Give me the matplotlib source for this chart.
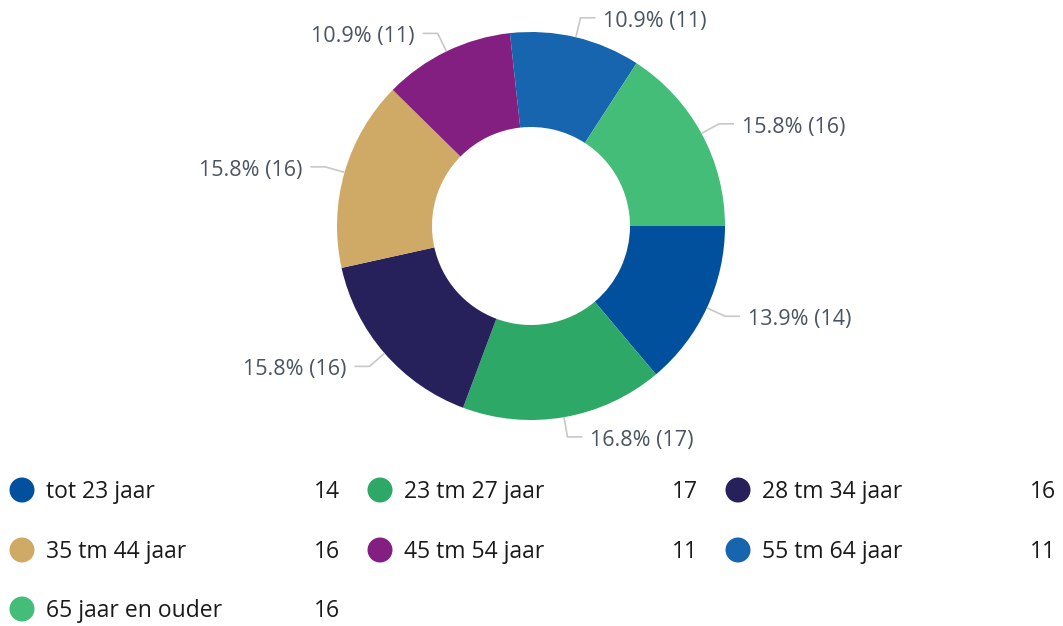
import numpy as np
import matplotlib
matplotlib.use("Agg")
import matplotlib.pyplot as plt

categories = ["tot 23 jaar", "23 tm 27 jaar", "28 tm 34 jaar", "35 tm 44 jaar",
              "45 tm 54 jaar", "55 tm 64 jaar", "65 jaar en ouder"]
values = [14, 17, 16, 16, 11, 11, 16]
colors = ["#00509d", "#2ea866", "#27215b", "#cfaa66", "#831f80", "#1765ae", "#44bd78"]

plt.rcParams['font.family'] = ['Open Sans', 'DejaVu Sans']

W, H = 1063, 626
fig = plt.figure(figsize=(W / 100, H / 100), dpi=100)
ax = fig.add_axes([0, 0, 1, 1])

cx, cy = 531, 226
R_out, R_in = 194, 99

# y axis inverted -> counterclockwise in data is clockwise on screen
ax.pie(values, colors=colors, startangle=0, counterclock=True,
       radius=R_out, center=(cx, cy),
       wedgeprops=dict(width=R_out - R_in, linewidth=0))
ax.set_xlim(0, W)
ax.set_ylim(H, 0)
ax.set_aspect('auto')
ax.axis('off')

total = sum(values)
cum = np.cumsum([0] + values)
for i, v in enumerate(values):
    mid = np.deg2rad((cum[i] + v / 2) / total * 360)
    c, s = np.cos(mid), np.sin(mid)
    p0 = (cx + R_out * c, cy + R_out * s)
    p1 = (cx + (R_out + 20) * c, cy + (R_out + 20) * s)
    sign = 1 if c >= 0 else -1
    p2 = (p1[0] + sign * 15, p1[1])
    ax.plot([p0[0], p1[0], p2[0]], [p0[1], p1[1], p2[1]], color="#c8c8c8", lw=1.2,
            solid_capstyle='butt')
    pct = v / total * 100
    ax.text(p2[0] + sign * 8, p2[1] + 3.5, f"{pct:.1f}% ({v})", fontsize=15.5,
            color="#4a5462", ha='left' if sign > 0 else 'right', va='center')

# legend
col_x = [22, 380, 738]
val_x = [340, 698, 1056]
row_y = [490, 550, 609]
for i, (lab, v, col) in enumerate(zip(categories, values, colors)):
    r, k = divmod(i, 3)
    x, y = col_x[k], row_y[r]
    ax.add_patch(plt.Circle((x, y), 12.5, color=col, lw=0))
    ax.text(x + 24, y + 2, lab, fontsize=16.5, color="#1a1a1a", ha='left', va='center')
    ax.text(val_x[k], y + 2, str(v), fontsize=16.5, color="#1a1a1a", ha='right', va='center')

fig.savefig("out.png", dpi=100)
